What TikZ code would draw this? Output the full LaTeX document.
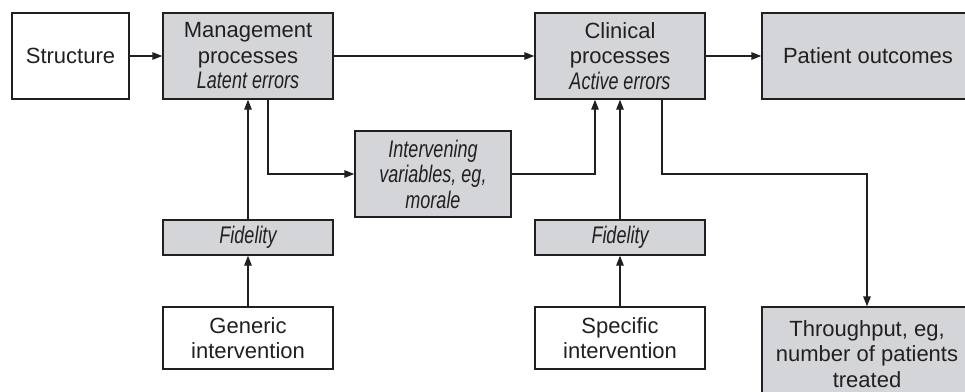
\documentclass[tikz,border=0pt]{standalone}
\usepackage{fontspec}
\setmainfont{Liberation Sans}
\newfontfamily\condit{Liberation Sans}[FakeStretch=0.75]
\usetikzlibrary{arrows.meta}
\definecolor{boxgray}{RGB}{212,213,216}
\definecolor{ink}{RGB}{35,31,32}
\newcommand{\ital}[1]{{\condit\itshape\fontsize{24}{25.5}\selectfont #1}}
\begin{document}
\begin{tikzpicture}[x=1pt,y=-1pt,
  base/.style={draw=ink, line width=1.4pt, text=ink, align=center, inner sep=0pt,
    font=\fontsize{22}{25.5}\selectfont},
  whitebox/.style={base, fill=white},
  graybox/.style={base, fill=boxgray},
  arr/.style={draw=ink, line width=1.4pt, -{Triangle[length=10pt,width=7.5pt]}}]
\clip (0,0) rectangle (965,391);
\fill[white] (0,0) rectangle (965,391);

\node[whitebox, minimum width=117pt, minimum height=86pt] (struct) at (70.5,56) {Structure};
\node[graybox, minimum width=170pt, minimum height=86pt] (mgmt) at (248,56) {Management\\processes\\\ital{Latent errors}};
\node[graybox, minimum width=170pt, minimum height=86pt] (clin) at (620,56) {Clinical\\processes\\\ital{Active errors}};
\node[graybox, minimum width=212pt, minimum height=86pt] (pat) at (868,56) {Patient outcomes};
\node[graybox, minimum width=156pt, minimum height=86pt] (interv) at (433,174) {\ital{Intervening}\\\ital{variables, eg,}\\\ital{morale}};
\node[graybox, minimum width=170pt, minimum height=35pt] (fid1) at (248,237.5) {\ital{Fidelity}};
\node[whitebox, minimum width=170pt, minimum height=62pt] (gen) at (248,338) {Generic\\intervention};
\node[graybox, minimum width=170pt, minimum height=35pt] (fid2) at (620,237.5) {\ital{Fidelity}};
\node[whitebox, minimum width=170pt, minimum height=62pt] (spec) at (620,338) {Specific\\intervention};
\node[graybox, minimum width=210pt, minimum height=94pt] (thru) at (867,354) {Throughput, eg,\\number of patients\\treated};

\draw[arr] (struct) -- (mgmt);
\draw[arr] (mgmt) -- (clin);
\draw[arr] (clin) -- (pat);
\draw[arr] ([xshift=20pt]mgmt.south) |- (interv.west);
\draw[arr] (interv.east) -| ([xshift=-25pt]clin.south);
\draw[arr] (fid1) -- (mgmt);
\draw[arr] (gen) -- (fid1);
\draw[arr] (fid2) -- (clin);
\draw[arr] (spec) -- (fid2);
\coordinate (bend) at (662,174);
\draw[arr] ([xshift=42pt]clin.south) -- (bend) -| (thru.north);
\end{tikzpicture}
\end{document}
